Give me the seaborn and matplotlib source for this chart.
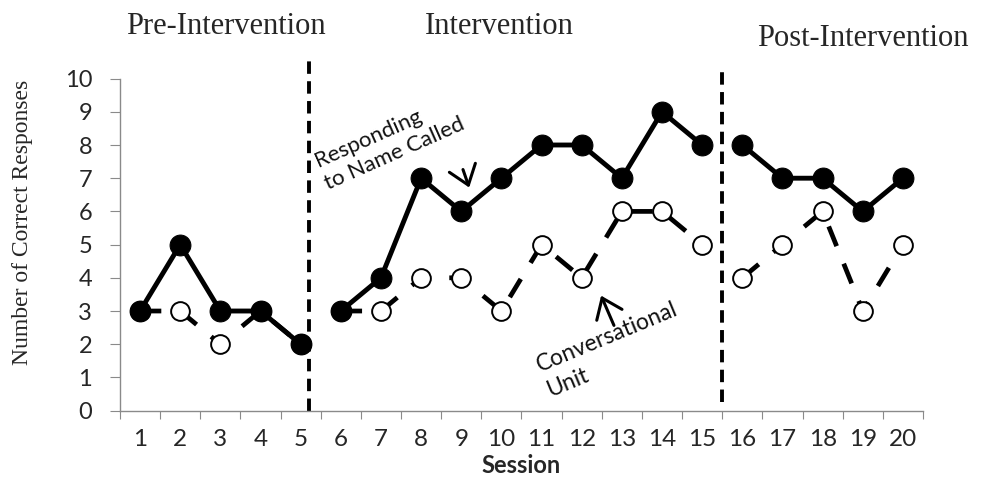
import pandas as pd
import matplotlib.pyplot as plt
from matplotlib.patches import FancyArrowPatch
import seaborn as sns

# dati
sessions = list(range(1, 21))
phase = [1] * 5 + [2] * 10 + [3] * 5
name_called = [3, 5, 3, 3, 2, 3, 4, 7, 6, 7, 8, 8, 7, 9, 8, 8, 7, 7, 6, 7]
conv_unit = [3, 3, 2, 3, 2, 3, 3, 4, 4, 3, 5, 4, 6, 6, 5, 4, 5, 6, 3, 5]
phase_names = ["Pre-Intervention", "Intervention", "Post-Intervention"]
phase_lines = [5.2, 15.5]

df = pd.DataFrame({"session": sessions, "phase": phase,
                   "name": name_called, "conv": conv_unit})

sns.set_style("white")
plt.rcParams["font.family"] = ["Lato", "DejaVu Sans"]
serif = ["Liberation Serif", "DejaVu Serif"]
gray = "#8a8a8a"

fig = plt.figure(figsize=(9.81, 4.90), dpi=100)
ax = fig.add_axes([0.1223, 0.162, 0.8186, 0.6776])

# conversational unit (dietro)
sns.lineplot(data=df, x="session", y="conv", units="phase", estimator=None,
             color="black", lw=3.4, linestyle=(0, (4.5, 4)), marker="o",
             markersize=13.5, markerfacecolor="white", markeredgecolor="black",
             markeredgewidth=1.4, ax=ax, zorder=2)
# responding to name called
sns.lineplot(data=df, x="session", y="name", units="phase", estimator=None,
             color="black", lw=3.5, marker="o", markersize=15,
             markerfacecolor="black", markeredgecolor="black", ax=ax, zorder=3)

# linee di cambio fase
ax.axvline(phase_lines[0], ymin=0, ymax=1.07, clip_on=False, color="black",
           lw=2.8, ls=(0, (3.2, 1.9)))
ax.axvline(phase_lines[1], ymin=0.026, ymax=1.03, clip_on=False, color="black",
           lw=2.8, ls=(0, (3.2, 1.9)))

ax.set_xlim(0.5, 20.5)
ax.set_ylim(0, 10)
ax.set_xticks([s - 0.5 for s in sessions] + [20.5])
ax.set_xticklabels([])
ax.set_xticks(sessions, minor=True)
ax.set_xticklabels([str(s) for s in sessions], minor=True)
ax.set_yticks(range(11))
ax.tick_params(axis="x", which="major", bottom=True, length=6, color=gray)
ax.tick_params(axis="x", which="minor", bottom=True, length=0, pad=13,
               labelsize=17.5)
ax.tick_params(axis="y", left=True, length=7, color=gray, pad=13,
               labelsize=17)

for sp in ["top", "right"]:
    ax.spines[sp].set_visible(False)
for sp in ["left", "bottom"]:
    ax.spines[sp].set_color(gray)
    ax.spines[sp].set_linewidth(1)

ax.set_xlabel("Session", fontsize=17, fontweight="bold", labelpad=3)
ax.set_ylabel("Number of Correct Responses", fontsize=17, family=serif)
ax.yaxis.set_label_coords(-0.108, 0.567)

# titoli delle fasi
fig.text(0.2305, 0.945, phase_names[0], family=serif, fontsize=22,
         ha="center", va="center")
fig.text(0.509, 0.945, phase_names[1], family=serif, fontsize=22,
         ha="center", va="center")
fig.text(0.88, 0.922, phase_names[2], family=serif, fontsize=22,
         ha="center", va="center")

# etichette delle serie
arrow_style = "->,head_length=0.6,head_width=0.45"
ax.text(7.22, 8.09, "Responding\nto Name Called", rotation=24,
        rotation_mode="anchor", ha="center", va="center",
        multialignment="left", fontsize=16, linespacing=1.3, color="#111111")
ax.add_patch(FancyArrowPatch((9.02, 7.34), (9.22, 6.64),
                             arrowstyle=arrow_style, mutation_scale=22,
                             lw=2.2, color="black", zorder=4))
ax.text(12.75, 1.83, "Conversational\nUnit", rotation=22.5,
        rotation_mode="anchor", ha="center", va="center",
        multialignment="left", fontsize=16.5, linespacing=1.35,
        color="#111111")
ax.add_patch(FancyArrowPatch((12.83, 2.49), (12.455, 3.54),
                             arrowstyle=arrow_style, mutation_scale=22,
                             lw=2.2, color="black", zorder=4))

plt.savefig("out.png", dpi=100)
plt.close()
